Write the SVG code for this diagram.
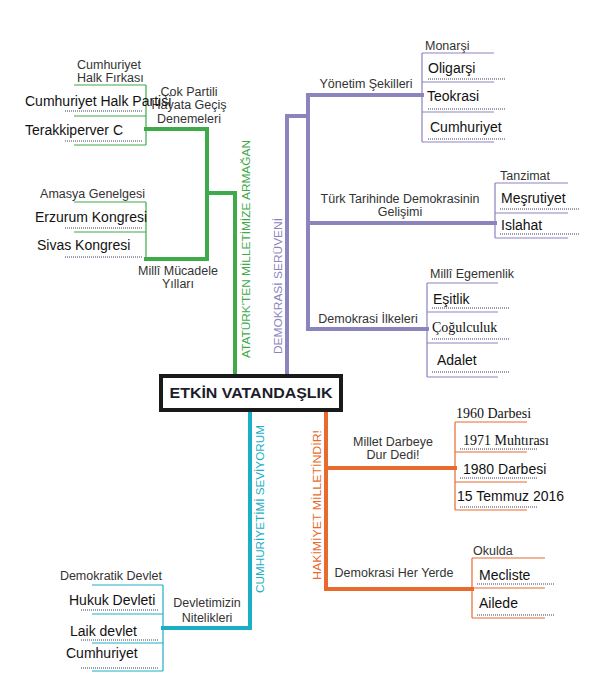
<svg xmlns="http://www.w3.org/2000/svg" width="593" height="688" viewBox="0 0 593 688">
<style>
.t{font-family:"Liberation Sans",Arial,sans-serif;font-size:12.5px;fill:#333}
.b{font-family:"Liberation Sans",Arial,sans-serif;font-size:14px;fill:#111}
.s{font-family:"Liberation Serif","Times New Roman",serif;font-size:14px;fill:#111}
.m{text-anchor:middle}
.e{text-anchor:end}
.v{font-family:"Liberation Sans",Arial,sans-serif;font-size:11.5px;text-anchor:middle}
.thick{fill:none;stroke-width:4;stroke-linejoin:miter;stroke-linecap:square}
.thin{fill:none;stroke-width:1.2}
.dot{fill:none;stroke:#3a3f5a;stroke-width:1;stroke-dasharray:1 1}
.g{stroke:#3eaa4a}.p{stroke:#8b84bd}.o{stroke:#e86a2c}.c{stroke:#1aafc4}
</style>
<rect width="593" height="688" fill="#fff"/>
<g id="connectors">
<path class="thick g" d="M146,129 H207 V259 H146 M207,193 H235 V374"/>
<path class="thick p" d="M287,374 V116 H308 M422,95 H308 V329 H427 M308,223 H495"/>
<path class="thick o" d="M326,412 V589 H472 M326,468 H455"/>
<path class="thick c" d="M250,412 V628 H163"/>
</g>
<g id="center">
<rect x="161" y="376" width="180" height="34" fill="#fff" stroke="#1a1a1a" stroke-width="4"/>
<text x="251" y="398" text-anchor="middle" font-family="Liberation Sans,Arial,sans-serif" font-weight="bold" font-size="14.5" fill="#1c1c2c" textLength="163" lengthAdjust="spacingAndGlyphs">ETKİN VATANDAŞLIK</text>
</g>
<g id="branch-ataturk">
<text class="v" fill="#3eaa4a" transform="translate(250,249) rotate(-90)" textLength="218" lengthAdjust="spacingAndGlyphs">ATATÜRK'TEN MİLLETİMİZE ARMAĞAN</text>
</g>
<g id="node-cok-partili">
<text class="t m" x="189" y="96">Çok Partili</text>
<text class="t m" x="189" y="109">Hayata Geçiş</text>
<text class="t m" x="189" y="123">Denemeleri</text>
<path class="thin g" d="M146,85 V145 M74,85 H146 M74,116 H146 M74,145 H146"/>
<path class="dot" d="M65,111 H142 M65,141 H142"/>
<text class="t" x="77" y="69">Cumhuriyet</text>
<text class="t" x="77" y="82">Halk Fırkası</text>
<text class="b" x="25" y="106">Cumhuriyet Halk Partisi</text>
<text class="b" x="25" y="135">Terakkiperver C</text>
</g>
<g id="node-milli-mucadele">
<text class="t m" x="178" y="275">Millî Mücadele</text>
<text class="t m" x="178" y="288">Yılları</text>
<path class="thin g" d="M146,202 V260 M74,202 H146 M74,232 H146"/>
<path class="dot" d="M65,228 H142 M65,257 H142"/>
<text class="t e" x="145" y="198">Amasya Genelgesi</text>
<text class="b" x="35" y="222">Erzurum Kongresi</text>
<text class="b" x="37" y="250">Sivas Kongresi</text>
</g>
<g id="branch-demokrasi">
<text class="v" fill="#8b84bd" transform="translate(282,286) rotate(-90)" textLength="136" lengthAdjust="spacingAndGlyphs">DEMOKRASİ SERÜVENİ</text>
</g>
<g id="node-yonetim">
<text class="t m" x="366" y="88">Yönetim Şekilleri</text>
<path class="thin p" d="M422,53 V142 M422,53 H494 M422,82 H494 M422,112 H494 M422,142 H494"/>
<path class="dot" d="M428,79 H505 M428,109 H505 M428,139 H505"/>
<text class="t" x="425" y="50">Monarşi</text>
<text class="b" x="428" y="73">Oligarşi</text>
<text class="b" x="427" y="101">Teokrasi</text>
<text class="b" x="430" y="132">Cumhuriyet</text>
</g>
<g id="node-turk-tarihi">
<text class="t m" x="400" y="203">Türk Tarihinde Demokrasinin</text>
<text class="t m" x="400" y="216">Gelişimi</text>
<path class="thin p" d="M495,183 V238 M495,183 H568 M495,213 H568 M495,238 H568"/>
<path class="dot" d="M500,209 H580 M500,234 H580"/>
<text class="t" x="500" y="180">Tanzimat</text>
<text class="b" x="501" y="203">Meşrutiyet</text>
<text class="b" x="501" y="230">Islahat</text>
</g>
<g id="node-ilkeler">
<text class="t m" x="368" y="323">Demokrasi İlkeleri</text>
<path class="thin p" d="M427,283 V377 M427,283 H498 M427,312 H498 M427,343 H498 M427,377 H498"/>
<path class="dot" d="M432,308 H510 M432,339 H510 M432,372 H510"/>
<text class="t" x="430" y="278">Millî Egemenlik</text>
<text class="b" x="433" y="304">Eşitlik</text>
<text class="s" x="432" y="332">Çoğulculuk</text>
<text class="b" x="437" y="365">Adalet</text>
</g>
<g id="branch-hakimiyet">
<text class="v" fill="#e86a2c" transform="translate(321,505) rotate(-90)" textLength="150" lengthAdjust="spacingAndGlyphs">HAKİMİYET MİLLETİNDİR!</text>
</g>
<g id="node-darbe">
<text class="t m" x="393" y="446">Millet Darbeye</text>
<text class="t m" x="393" y="459">Dur Dedi!</text>
<path class="thin o" d="M455,422 V510 M455,422 H527 M455,452 H527 M455,482 H527 M455,510 H527"/>
<path class="dot" d="M460,449 H538 M460,478 H538 M460,507 H538"/>
<text class="s" x="456" y="418">1960 Darbesi</text>
<text class="s" x="463" y="445" font-size="13.5">1971 Muhtırası</text>
<text class="b" x="463" y="474">1980 Darbesi</text>
<text class="b" x="457" y="501">15 Temmuz 2016</text>
</g>
<g id="node-her-yerde">
<text class="t m" x="394" y="577">Demokrasi Her Yerde</text>
<path class="thin o" d="M472,558 V618 M472,558 H545 M472,588 H545 M472,618 H545"/>
<path class="dot" d="M477,584 H555 M477,615 H555"/>
<text class="t" x="473" y="555">Okulda</text>
<text class="b" x="479" y="580">Mecliste</text>
<text class="b" x="479" y="608">Ailede</text>
</g>
<g id="branch-cumhuriyet">
<text class="v" fill="#1aafc4" transform="translate(264,509) rotate(-90)" textLength="168" lengthAdjust="spacingAndGlyphs">CUMHURİYETİMİ SEVİYORUM</text>
</g>
<g id="node-nitelikler">
<text class="t m" x="207" y="607">Devletimizin</text>
<text class="t m" x="207" y="622">Nitelikleri</text>
<path class="thin c" d="M163,585 V671 M92,585 H163 M92,614 H163 M92,643 H163 M92,671 H163"/>
<path class="dot" d="M81,610 H159 M81,640 H159 M81,668 H159"/>
<text class="t e" x="162" y="580">Demokratik Devlet</text>
<text class="b" x="69" y="605">Hukuk Devleti</text>
<text class="b" x="70" y="636">Laik devlet</text>
<text class="b" x="66" y="658">Cumhuriyet</text>
</g>
</svg>
